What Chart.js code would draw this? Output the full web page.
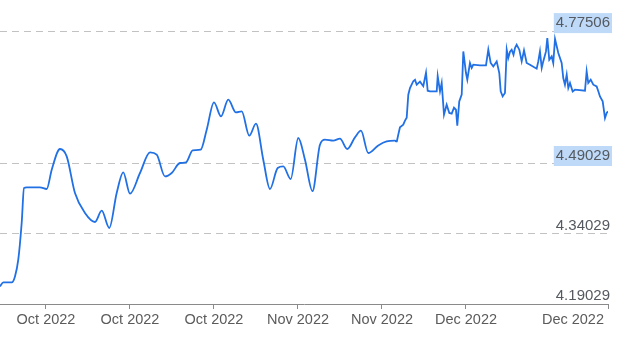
<!DOCTYPE html>
<html>
<head>
<meta charset="utf-8">
<script src="https://cdn.jsdelivr.net/npm/chart.js@4.4.1/dist/chart.umd.min.js"></script>
<style>
  html, body { margin: 0; padding: 0; background: #fff; }
  #wrap { width: 624px; height: 347px; position: relative; }
</style>
</head>
<body>
<div id="wrap"><canvas id="c" width="624" height="347"></canvas></div>
<script>
// ---- data (x = days since 28 Sep 2022) ----
const smoothDays = [0,0.47,1.67,2.14,2.61,3.10,3.43,3.81,5.71,6.67,7.39,8.57,9.53,10.71,12.14,13.57,14.53,15.61,16.67,17.61,18.57,20.0,21.43,22.39,23.57,24.53,25.71,26.57,27.53,28.67,29.53,30.57,31.57,32.61,33.71,34.53,35.61,36.57,37.61,38.57,39.67,40.47,41.53,42.61,43.57,44.64,45.71,46.43,47.61,48.57,49.61,50.71,51.57,52.61,54.04,55.24,56.43,56.67];
const smoothVals = [4.228,4.2366,4.2366,4.2494,4.2852,4.3645,4.4388,4.4401,4.4401,4.4367,4.4781,4.5224,4.5066,4.4281,4.3853,4.366,4.3902,4.3531,4.4281,4.4723,4.4266,4.471,4.5151,4.5102,4.4637,4.471,4.4924,4.4937,4.5194,4.5209,4.5638,4.6223,4.5923,4.628,4.6008,4.603,4.5509,4.5766,4.4995,4.4367,4.4817,4.4851,4.4581,4.546,4.4995,4.432,4.5316,4.5423,4.5402,4.5445,4.5224,4.5473,4.5616,4.5138,4.5301,4.5387,4.5402,4.5374];
const tickDaysDense = [56.67,56.90,57.14,57.61,57.86,58.10,58.33,58.57,59.04,59.29,59.53,60.0,60.47,60.86,61.10,61.43,62.39,62.53,62.86,63.10,63.43,63.81,64.19,64.53,64.86,65.14,65.33,65.61,65.96,66.19,66.57,66.76,67.14,67.39,67.61,68.57,69.43,69.76,70.10,70.47,70.96,71.33,71.53,71.81,72.14,72.39,72.61,72.86,73.10,73.36,73.57,73.81,74.19,74.53,74.86,75.24,75.71,76.67,76.90,77.14,77.39,77.61,78.0,78.19,78.47,78.81,79.04,79.29,79.76,80.24,80.47,80.71,80.96,81.19,81.43,81.81,82.14,83.57,83.81,84.04,84.39,84.76,85.24,85.5,85.71,86.10,86.43,86.67,86.86];
const denseVals = [4.5374,4.5531,4.5691,4.5745,4.5831,4.5895,4.6388,4.6531,4.6677,4.6709,4.6602,4.6666,4.657,4.6859,4.6473,4.6458,4.6458,4.6784,4.6458,4.6638,4.5959,4.6173,4.5996,4.5981,4.6109,4.6066,4.5723,4.6244,4.6388,4.7315,4.6852,4.6709,4.7067,4.696,4.703,4.7015,4.7015,4.7352,4.7067,4.6994,4.7101,4.6852,4.6458,4.6351,4.6424,4.7352,4.7174,4.7309,4.7352,4.7245,4.7388,4.7459,4.7352,4.7101,4.7337,4.7067,4.703,4.6945,4.7101,4.7315,4.696,4.7101,4.7315,4.7603,4.7138,4.7208,4.7067,4.7581,4.7281,4.7067,4.6745,4.6602,4.6816,4.6531,4.6638,4.6458,4.6495,4.6473,4.6887,4.6638,4.6709,4.6602,4.6565,4.6452,4.6351,4.6244,4.5888,4.5996,4.603];
const xTickDays = [6.57,18.57,30.57,42.57,54.57,66.57,86.86];
const xTickLabels = ['Oct 2022','Oct 2022','Oct 2022','Nov 2022','Nov 2022','Dec 2022','Dec 2022'];
const yTickValues = [4.19029,4.34029,4.49029,4.77506];
const yHighlighted = [4.49029,4.77506];

const X_MIN = 0, X_MAX = 86.86;
const Y_MIN = 4.19029, Y_MAX = 4.79882;

const FONT = '"Liberation Sans", Arial, Helvetica, sans-serif';
const LINE = '#2170e4';

const xLabelsPlugin = {
  id: 'xLabels',
  afterDraw(chart) {
    const xs = chart.scales.x;
    const ctx = chart.ctx;
    ctx.save();
    ctx.font = '14.5px ' + FONT;
    ctx.fillStyle = '#5b5b5b';
    ctx.textAlign = 'center';
    ctx.textBaseline = 'middle';
    const rightLimit = chart.width - 20;
    xTickDays.forEach((d, i) => {
      const px = xs.getPixelForValue(d);
      const w = ctx.measureText(xTickLabels[i]).width;
      const cx = Math.min(px, rightLimit - w / 2);
      ctx.fillText(xTickLabels[i], cx, xs.top + 16);
    });
    ctx.restore();
  }
};

new Chart(document.getElementById('c'), {
  type: 'line',
  data: {
    datasets: [
      {
        data: smoothDays.map((d, i) => ({ x: d, y: smoothVals[i] })),
        borderColor: LINE, borderWidth: 1.8, pointRadius: 0,
        cubicInterpolationMode: 'monotone', fill: false
      },
      {
        data: tickDaysDense.map((d, i) => ({ x: d, y: denseVals[i] })),
        borderColor: LINE, borderWidth: 1.8, pointRadius: 0,
        tension: 0, fill: false
      }
    ]
  },
  options: {
    responsive: false,
    animation: false,
    devicePixelRatio: 1,
    layout: { padding: { left: 0, right: 16, top: 20, bottom: 0 } },
    plugins: { legend: { display: false }, tooltip: { enabled: false } },
    scales: {
      x: {
        type: 'linear', min: X_MIN, max: X_MAX,
        afterBuildTicks: (s) => { s.ticks = xTickDays.map(v => ({ value: v })); },
        afterFit: (s) => { s.height = 43; },
        ticks: { display: false },
        grid: { drawOnChartArea: false, drawTicks: true, tickLength: 5, color: '#8a8a8a', lineWidth: 1 },
        border: { display: true, color: '#8a8a8a', width: 1 }
      },
      y: {
        type: 'linear', position: 'right', min: Y_MIN, max: Y_MAX,
        afterBuildTicks: (s) => { s.ticks = yTickValues.map(v => ({ value: v })); },
        afterFit: (s) => { s.width = 0; },
        ticks: {
          mirror: true, padding: 2, labelOffset: -8,
          font: { family: FONT, size: 15 },
          color: '#555a60',
          callback: (v) => Number(v).toFixed(5),
          showLabelBackdrop: (ctx) => yHighlighted.includes(ctx.tick && ctx.tick.value),
          backdropColor: '#bfdaf8',
          backdropPadding: { left: 2, right: 2, top: 1, bottom: 1 }
        },
        grid: {
          drawTicks: false, color: (ctx) => ctx.tick && ctx.tick.value === Y_MIN ? 'rgba(0,0,0,0)' : '#c2c2c2',
          lineWidth: 1
        },
        border: { display: false, dash: [7, 5] }
      }
    }
  },
  plugins: [xLabelsPlugin]
});
</script>
</body>
</html>
